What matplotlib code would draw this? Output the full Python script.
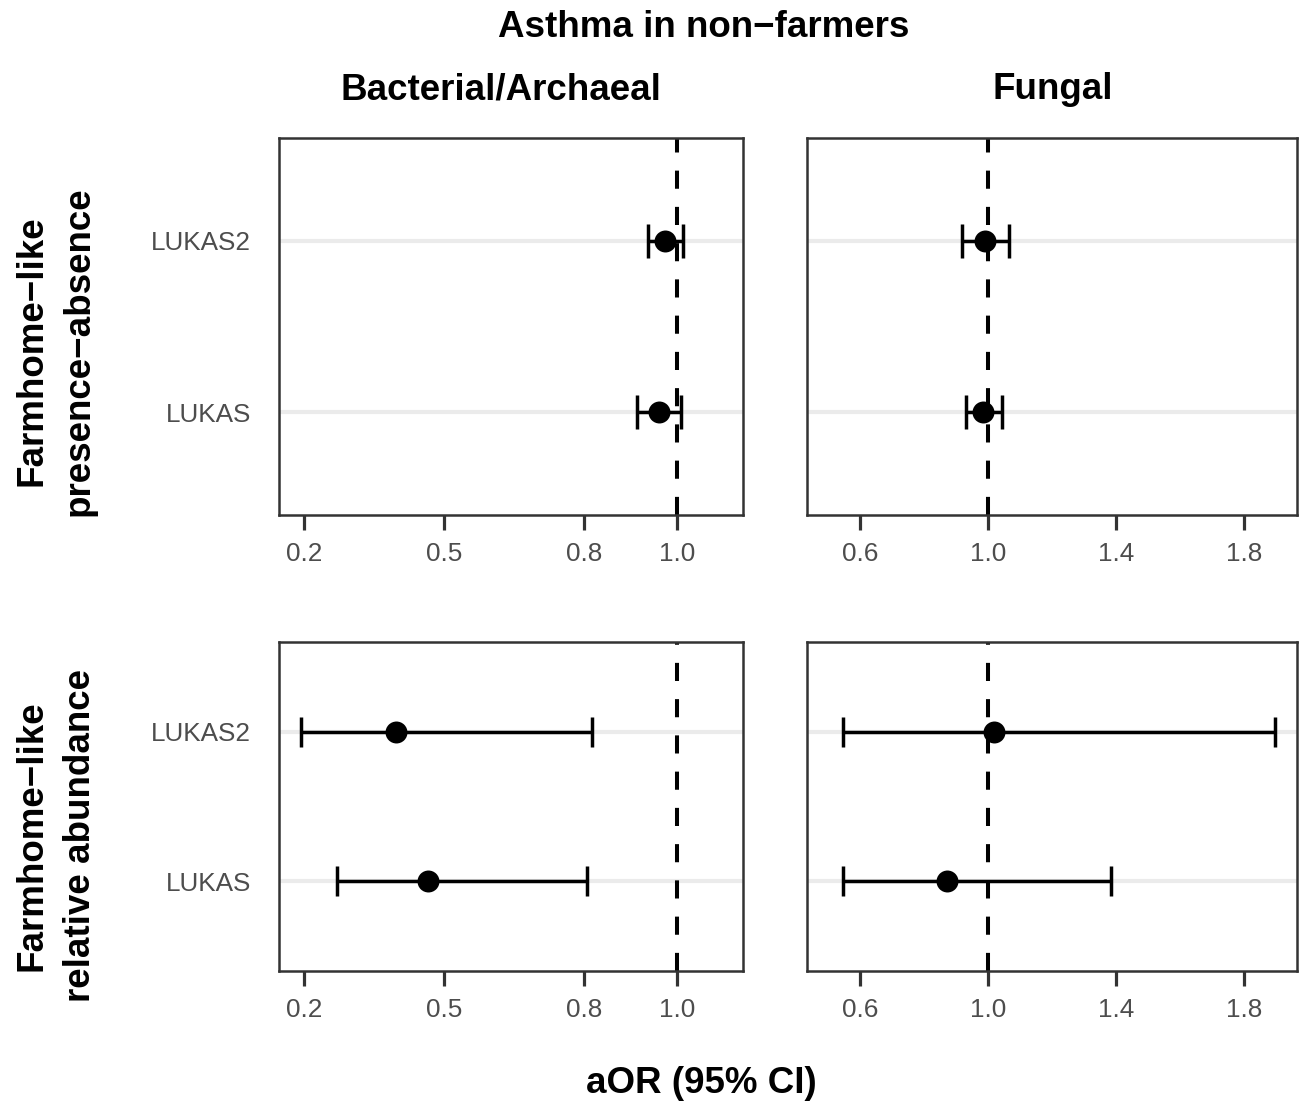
import numpy as np
import matplotlib.pyplot as plt

plt.rcParams['font.family'] = ['Liberation Sans', 'DejaVu Sans']

# cohorts on the y axis (bottom to top)
cohorts = ["LUKAS", "LUKAS2"]

# presence-absence, bacterial/archaeal
bac_pa_or = [0.962, 0.975]
bac_pa_lo = [0.915, 0.937]
bac_pa_hi = [1.009, 1.014]

# presence-absence, fungal
fun_pa_or = [0.985, 0.990]
fun_pa_lo = [0.930, 0.917]
fun_pa_hi = [1.043, 1.066]

# relative abundance, bacterial/archaeal
bac_ra_or = [0.466, 0.396]
bac_ra_lo = [0.270, 0.192]
bac_ra_hi = [0.807, 0.817]

# relative abundance, fungal
fun_ra_or = [0.870, 1.018]
fun_ra_lo = [0.546, 0.546]
fun_ra_hi = [1.385, 1.898]

bac_ticks = [0.2, 0.5, 0.8, 1.0]
fun_ticks = [0.6, 1.0, 1.4, 1.8]

W, H = 1301, 1101
fig = plt.figure(figsize=(W / 100, H / 100), dpi=100)


def px_axes(x0, y0, x1, y1):
    return fig.add_axes([x0 / W, 1 - y1 / H, (x1 - x0) / W, (y1 - y0) / H])


def forest(ax, orv, lo, hi, ticks, xlim, show_y):
    y = np.arange(1, len(cohorts) + 1)
    ax.set_xlim(*xlim)
    ax.set_ylim(0.4, len(cohorts) + 0.6)
    for yy in y:
        ax.axhline(yy, color='#EBEBEB', lw=3.0, zorder=0)
    ax.axvline(1.0, color='black', lw=2.9, linestyle=(0, (4.5, 4.5)), zorder=1)
    ax.hlines(y, lo, hi, color='black', lw=2.5, zorder=2)
    ax.vlines(lo, y - 0.1, y + 0.1, color='black', lw=2.5, zorder=2)
    ax.vlines(hi, y - 0.1, y + 0.1, color='black', lw=2.5, zorder=2)
    ax.scatter(orv, y, s=250, color='black', zorder=3, linewidths=0)
    ax.set_xticks(ticks)
    ax.set_xticklabels([f'{t:.1f}' for t in ticks])
    ax.set_yticks(y)
    if show_y:
        ax.set_yticklabels(cohorts)
    else:
        ax.set_yticklabels([])
    ax.tick_params(axis='x', length=10.8, width=2.3, color='#333333',
                   labelsize=18.8, labelcolor='#4D4D4D', pad=8.5)
    ax.tick_params(axis='y', length=0, labelsize=18.8, labelcolor='#4D4D4D', pad=20)
    for s in ax.spines.values():
        s.set_color('#333333')
        s.set_linewidth(1.8)
        s.set_zorder(4)


ax1 = px_axes(279, 138, 743, 515)
forest(ax1, bac_pa_or, bac_pa_lo, bac_pa_hi, bac_ticks, (0.1457, 1.142), True)
ax2 = px_axes(807, 138, 1297, 515)
forest(ax2, fun_pa_or, fun_pa_lo, fun_pa_hi, fun_ticks, (0.4328, 1.967), False)
ax3 = px_axes(279, 642, 743, 971)
forest(ax3, bac_ra_or, bac_ra_lo, bac_ra_hi, bac_ticks, (0.1457, 1.142), True)
ax4 = px_axes(807, 642, 1297, 971)
forest(ax4, fun_ra_or, fun_ra_lo, fun_ra_hi, fun_ticks, (0.4328, 1.967), False)

bold = dict(fontsize=26.5, fontweight='bold', color='black')


def ftext(x, y, s, **kw):
    fig.text(x / W, 1 - y / H, s, **kw)


ftext(704, 37, 'Asthma in non\u2212farmers', ha='center', va='baseline', **bold)
ftext(501, 99, 'Bacterial/Archaeal', ha='center', va='baseline', **bold)
ftext(1053, 99, 'Fungal', ha='center', va='baseline', **bold)
ftext(701, 1093, 'aOR (95% CI)', ha='center', va='baseline', **bold)

rot = dict(rotation=90, rotation_mode='anchor', ha='center', va='baseline')
ftext(42, 351, 'Farmhome\u2212like', **rot, **bold)
ftext(89, 351, 'presence\u2212absence', **rot, **bold)
ftext(42, 836, 'Farmhome\u2212like', **rot, **bold)
ftext(90, 836, 'relative abundance', **rot, **bold)

fig.savefig('out.png', dpi=100, facecolor='white')
